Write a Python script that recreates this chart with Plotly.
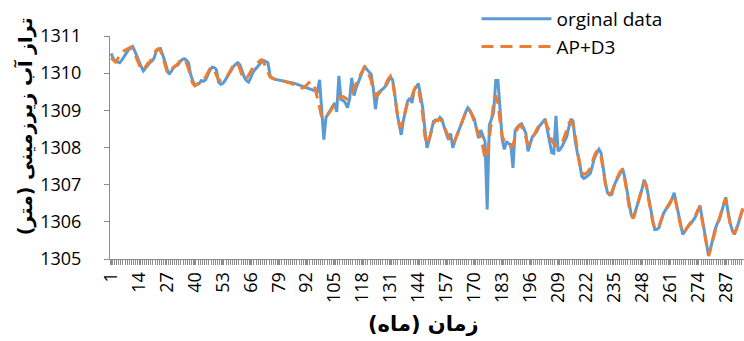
import plotly.graph_objects as go

# Monthly groundwater level (m) – observed series and AP+D3 reconstruction
months = list(range(1, 296))

original_data = [
    1310.53, 1310.40, 1310.32, 1310.30, 1310.28, 1310.35, 1310.45, 1310.55, 1310.62, 1310.68,
    1310.72, 1310.60, 1310.45, 1310.33, 1310.18, 1310.06, 1310.14, 1310.23, 1310.28, 1310.33,
    1310.40, 1310.59, 1310.64, 1310.66, 1310.52, 1310.33, 1310.12, 1309.97, 1310.05, 1310.14,
    1310.19, 1310.22, 1310.30, 1310.36, 1310.39, 1310.35, 1310.28, 1309.97, 1309.80, 1309.67,
    1309.70, 1309.72, 1309.80, 1309.78, 1309.82, 1309.97, 1310.08, 1310.16, 1310.15, 1310.10,
    1309.76, 1309.70, 1309.72, 1309.80, 1309.89, 1310.00, 1310.10, 1310.18, 1310.24, 1310.28,
    1310.22, 1310.05, 1309.89, 1309.80, 1309.76, 1309.88, 1310.02, 1310.10, 1310.17, 1310.23,
    1310.30, 1310.34, 1310.32, 1310.28, 1309.93, 1309.87, 1309.84, 1309.83, 1309.82, 1309.81,
    1309.80, 1309.79, 1309.78, 1309.76, 1309.74, 1309.73, 1309.71, 1309.69, 1309.67, 1309.65,
    1309.63, 1309.61, 1309.58, 1309.56, 1309.54, 1309.52, 1309.50, 1309.82, 1309.10, 1308.21,
    1308.81, 1308.90, 1308.98, 1309.10, 1309.20, 1308.96, 1309.93, 1309.29, 1309.27, 1309.20,
    1309.07, 1309.30, 1309.87, 1309.40, 1309.60, 1309.75, 1309.90, 1310.05, 1310.19, 1310.10,
    1310.02, 1309.97, 1309.60, 1309.03, 1309.46, 1309.50, 1309.54, 1309.60, 1309.67, 1309.78,
    1309.89, 1309.82, 1309.45, 1308.94, 1308.60, 1308.34, 1308.72, 1309.00, 1309.25, 1309.33,
    1309.20, 1309.54, 1309.65, 1309.72, 1309.40, 1309.07, 1308.50, 1307.99, 1308.20, 1308.42,
    1308.70, 1308.74, 1308.72, 1308.81, 1308.75, 1308.55, 1308.38, 1308.21, 1308.38, 1307.99,
    1308.18, 1308.34, 1308.50, 1308.64, 1308.80, 1308.95, 1309.07, 1309.00, 1308.88, 1308.77,
    1308.50, 1308.25, 1308.47, 1308.30, 1308.16, 1306.33, 1308.60, 1308.77, 1308.94, 1309.80,
    1309.80, 1309.03, 1308.21, 1307.95, 1308.16, 1308.10, 1308.08, 1307.45, 1308.45, 1308.55,
    1308.60, 1308.64, 1308.52, 1308.38, 1307.90, 1308.10, 1308.29, 1308.35, 1308.42, 1308.55,
    1308.62, 1308.70, 1308.77, 1308.47, 1308.15, 1307.86, 1307.84, 1308.85, 1307.90, 1307.95,
    1308.05, 1308.18, 1308.29, 1308.55, 1308.77, 1308.70, 1308.16, 1307.85, 1307.60, 1307.22,
    1307.17, 1307.20, 1307.25, 1307.30, 1307.52, 1307.73, 1307.85, 1307.95, 1307.85, 1307.39,
    1307.05, 1306.78, 1306.72, 1306.74, 1306.96, 1307.10, 1307.22, 1307.35, 1307.43, 1307.20,
    1306.87, 1306.45, 1306.20, 1306.09, 1306.27, 1306.48, 1306.68, 1306.87, 1307.13, 1307.00,
    1306.70, 1306.35, 1306.05, 1305.79, 1305.80, 1305.85, 1306.05, 1306.22, 1306.32, 1306.40,
    1306.48, 1306.62, 1306.78, 1306.50, 1306.20, 1305.92, 1305.66, 1305.75, 1305.85, 1305.92,
    1305.97, 1306.05, 1306.14, 1306.30, 1306.44, 1306.10, 1305.80, 1305.49, 1305.10, 1305.30,
    1305.55, 1305.79, 1305.95, 1306.05, 1306.25, 1306.48, 1306.66, 1306.30, 1305.98, 1305.78,
    1305.66, 1305.80, 1306.00, 1306.18, 1306.35,
]

ap_d3 = [
    1310.41, 1310.34, 1310.30, 1310.38, 1310.48, 1310.56, 1310.60, 1310.64, 1310.68, 1310.70,
    1310.66, 1310.52, 1310.38, 1310.22, 1310.10, 1310.08, 1310.18, 1310.26, 1310.31, 1310.38,
    1310.50, 1310.62, 1310.66, 1310.60, 1310.45, 1310.25, 1310.05, 1310.00, 1310.08, 1310.16,
    1310.20, 1310.25, 1310.33, 1310.38, 1310.36, 1310.28, 1310.12, 1309.90, 1309.72, 1309.66,
    1309.70, 1309.75, 1309.78, 1309.82, 1309.90, 1310.02, 1310.12, 1310.15, 1310.08, 1309.95,
    1309.82, 1309.80, 1309.82, 1309.85, 1309.92, 1310.03, 1310.14, 1310.22, 1310.28, 1310.26,
    1310.10, 1309.92, 1309.84, 1309.86, 1309.95, 1310.06, 1310.15, 1310.22, 1310.28, 1310.32,
    1310.36, 1310.30, 1310.15, 1310.02, 1309.90, 1309.86, 1309.84, 1309.83, 1309.82, 1309.80,
    1309.79, 1309.78, 1309.76, 1309.74, 1309.72, 1309.70, 1309.66, 1309.62, 1309.60, 1309.60,
    1309.62, 1309.68, 1309.74, 1309.77, 1309.72, 1309.58, 1309.35, 1309.05, 1308.82, 1308.80,
    1308.84, 1308.90, 1308.98, 1309.08, 1309.16, 1309.24, 1309.34, 1309.38, 1309.37, 1309.33,
    1309.30, 1309.35, 1309.46, 1309.58, 1309.72, 1309.85, 1309.96, 1310.06, 1310.17, 1310.12,
    1309.98, 1309.80, 1309.55, 1309.38, 1309.40, 1309.48, 1309.55, 1309.62, 1309.72, 1309.85,
    1309.92, 1309.78, 1309.40, 1309.00, 1308.62, 1308.55, 1308.75, 1308.98, 1309.22, 1309.32,
    1309.38, 1309.55, 1309.66, 1309.62, 1309.30, 1308.88, 1308.30, 1308.08, 1308.22, 1308.42,
    1308.64, 1308.72, 1308.74, 1308.76, 1308.70, 1308.56, 1308.40, 1308.28, 1308.15, 1308.10,
    1308.20, 1308.34, 1308.50, 1308.65, 1308.80, 1308.94, 1309.04, 1308.98, 1308.86, 1308.68,
    1308.48, 1308.34, 1308.30, 1307.95, 1307.70, 1307.75, 1308.25, 1308.80, 1309.20, 1309.40,
    1309.20, 1308.70, 1308.30, 1308.16, 1308.14, 1308.10, 1308.02, 1308.05, 1308.30, 1308.50,
    1308.60, 1308.56, 1308.45, 1308.25, 1308.08, 1308.12, 1308.25, 1308.36, 1308.48, 1308.58,
    1308.66, 1308.72, 1308.70, 1308.58, 1308.42, 1308.20, 1308.10, 1308.06, 1308.03, 1308.05,
    1308.14, 1308.30, 1308.50, 1308.66, 1308.72, 1308.58, 1308.30, 1307.90, 1307.55, 1307.32,
    1307.28, 1307.30, 1307.36, 1307.45, 1307.62, 1307.80, 1307.90, 1307.92, 1307.75, 1307.40,
    1307.02, 1306.80, 1306.75, 1306.80, 1306.98, 1307.12, 1307.25, 1307.36, 1307.40, 1307.15,
    1306.80, 1306.42, 1306.18, 1306.10, 1306.28, 1306.50, 1306.70, 1306.90, 1307.08, 1306.95,
    1306.65, 1306.30, 1306.00, 1305.82, 1305.82, 1305.90, 1306.06, 1306.22, 1306.32, 1306.42,
    1306.52, 1306.64, 1306.72, 1306.45, 1306.15, 1305.90, 1305.70, 1305.75, 1305.84, 1305.92,
    1306.00, 1306.08, 1306.18, 1306.32, 1306.40, 1306.05, 1305.75, 1305.45, 1305.08, 1305.28,
    1305.52, 1305.76, 1305.95, 1306.08, 1306.28, 1306.50, 1306.62, 1306.28, 1305.96, 1305.76,
    1305.68, 1305.82, 1306.02, 1306.20, 1306.38,
]

month_ticks = [1, 14, 27, 40, 53, 66, 79, 92, 105, 118, 131, 144,
               157, 170, 183, 196, 209, 222, 235, 248, 261, 274, 287]
level_ticks = [1305, 1306, 1307, 1308, 1309, 1310, 1311]

AXIS_GREY = "#8c8c8c"
TICK_FONT = dict(family="Open Sans", size=18, color="#000000")

fig = go.Figure()
fig.add_trace(go.Scatter(
    x=months, y=original_data, name="orginal data", mode="lines",
    line=dict(color="#5B9BD5", width=3),
))
fig.add_trace(go.Scatter(
    x=months, y=ap_d3, name="AP+D3", mode="lines",
    line=dict(color="#ED7D31", width=3, dash="12px,7px"),
))

fig.update_layout(
    width=744, height=341,
    margin=dict(l=110, r=0, t=27, b=82),
    paper_bgcolor="white", plot_bgcolor="white",
    showlegend=True,
    legend=dict(
        x=0.578, y=1.162, xanchor="left", yanchor="top",
        font=dict(family="Open Sans", size=19, color="#000000"),
        bgcolor="rgba(0,0,0,0)", itemwidth=70, tracegroupgap=0,
    ),
    xaxis=dict(
        range=[0.5, 295.5], showgrid=False, zeroline=False,
        showline=True, linecolor=AXIS_GREY, linewidth=1,
        tickmode="array", tickvals=month_ticks,
        ticktext=[str(t) for t in month_ticks],
        tickangle=-90, ticks="outside", ticklen=5, tickcolor=AXIS_GREY,
        tickfont=TICK_FONT,
        minor=dict(ticks="outside", dtick=1, tick0=0.5, ticklen=5,
                   tickcolor=AXIS_GREY, showgrid=False),
    ),
    yaxis=dict(
        range=[1305, 1311], showgrid=False, zeroline=False,
        showline=True, linecolor=AXIS_GREY, linewidth=1,
        tickmode="array", tickvals=level_ticks,
        ticks="outside", ticklen=5, tickcolor=AXIS_GREY,
        tickfont=TICK_FONT, ticklabelstandoff=19,
    ),
    annotations=[
        dict(text="<b>تراز آب زیرزمینی (متر)</b>", textangle=-90,
             xref="paper", yref="paper", x=-0.134, y=0.595,
             xanchor="center", yanchor="middle", showarrow=False,
             font=dict(family="DejaVu Sans", size=19, color="#000000")),
        dict(text="<b>زمان (ماه)</b>",
             xref="paper", yref="paper", x=0.495, y=-0.29,
             xanchor="center", yanchor="middle", showarrow=False,
             font=dict(family="DejaVu Sans", size=21, color="#000000")),
    ],
)

fig.write_html("out.html")
